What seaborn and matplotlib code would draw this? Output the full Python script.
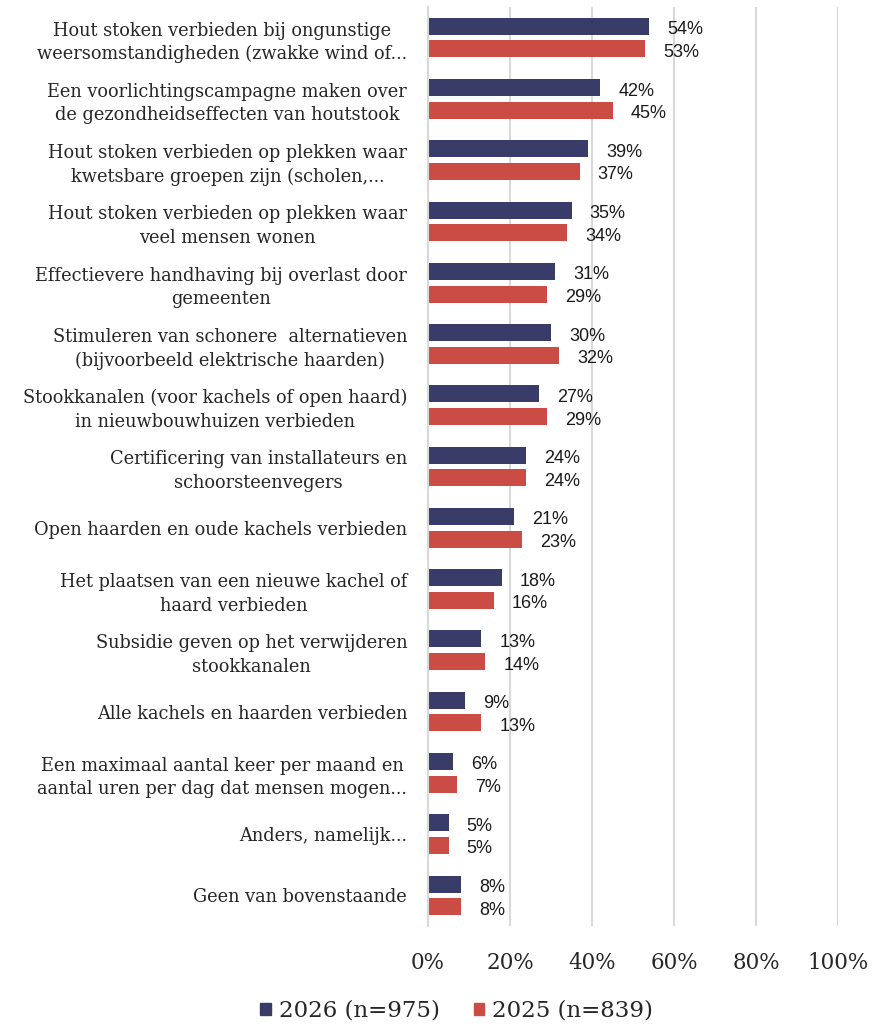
import pandas as pd
import seaborn as sns
import matplotlib.pyplot as plt
from matplotlib.patches import Patch

# ---------- Data ----------
categories = [
    "Hout stoken verbieden bij ongunstige\nweersomstandigheden (zwakke wind of...",
    "Een voorlichtingscampagne maken over\nde gezondheidseffecten van houtstook",
    "Hout stoken verbieden op plekken waar\nkwetsbare groepen zijn (scholen,...",
    "Hout stoken verbieden op plekken waar\nveel mensen wonen",
    "Effectievere handhaving bij overlast door\ngemeenten",
    "Stimuleren van schonere  alternatieven\n(bijvoorbeeld elektrische haarden)",
    "Stookkanalen (voor kachels of open haard)\nin nieuwbouwhuizen verbieden",
    "Certificering van installateurs en\nschoorsteenvegers",
    "Open haarden en oude kachels verbieden",
    "Het plaatsen van een nieuwe kachel of\nhaard verbieden",
    "Subsidie geven op het verwijderen\nstookkanalen",
    "Alle kachels en haarden verbieden",
    "Een maximaal aantal keer per maand en\naantal uren per dag dat mensen mogen...",
    "Anders, namelijk...",
    "Geen van bovenstaande",
]
values_2026 = [54, 42, 39, 35, 31, 30, 27, 24, 21, 18, 13, 9, 6, 5, 8]
values_2025 = [53, 45, 37, 34, 29, 32, 29, 24, 23, 16, 14, 13, 7, 5, 8]
series = ["2026 (n=975)", "2025 (n=839)"]
colors = ["#393B69", "#CB4C44"]
xticks = [0, 20, 40, 60, 80, 100]

df = pd.DataFrame({
    "categorie": categories * 2,
    "jaar": [series[0]] * len(categories) + [series[1]] * len(categories),
    "waarde": values_2026 + values_2025,
})

# ---------- Plot ----------
sns.set_theme(style="white")
serif = ["DejaVu Serif"]
sans = ["Liberation Sans", "DejaVu Sans"]

fig = plt.figure(figsize=(8.75, 10.26), dpi=100)
ax = fig.add_axes([428 / 875, 1 - 926 / 1026, 410 / 875, 919 / 1026])

sns.barplot(data=df, y="categorie", x="waarde", hue="jaar", order=categories,
            hue_order=series, palette=colors, orient="h", width=0.74, gap=0.25,
            saturation=1, linewidth=0, ax=ax, legend=False)

for cont, vals in zip(ax.containers, [values_2026, values_2025]):
    texts = ax.bar_label(cont, labels=[f"{v}%" for v in vals], padding=13,
                         fontsize=13, family=sans, color="#1a1a1a")
    for t in texts:
        # Excel puts them a touch lower than the bar centre
        t.xyann = (t.xyann[0], t.xyann[1] - 2.5)

ax.set_xlim(0, 100)
ax.set_xticks(xticks)
ax.set_xticklabels([f"{t}%" for t in xticks], family=serif, fontsize=15.5)
ax.tick_params(axis="x", length=0, pad=19)
ax.tick_params(axis="y", length=0, pad=15)
for lab in ax.get_yticklabels():
    lab.set_family(serif)
    lab.set_fontsize(12.8)
    lab.set_multialignment("center")
    lab.set_linespacing(1.4)
ax.set_xlabel("")
ax.set_ylabel("")
ax.grid(axis="x", color="#D9D9D9", linewidth=1.5)
ax.set_axisbelow(True)
for s in ["top", "right", "bottom"]:
    ax.spines[s].set_visible(False)
ax.spines["left"].set_color("#D9D9D9")
ax.spines["left"].set_linewidth(1.5)

handles = [Patch(color=c, label=s) for c, s in zip(colors, series)]
fig.legend(handles=handles, loc="center", bbox_to_anchor=(0.522, 1 - 1011 / 1026),
           ncol=2, frameon=False, prop={"family": serif, "size": 16.5},
           handlelength=0.45, handleheight=0.45, handletextpad=0.35, columnspacing=1.5)

fig.savefig("out.png", dpi=100)
